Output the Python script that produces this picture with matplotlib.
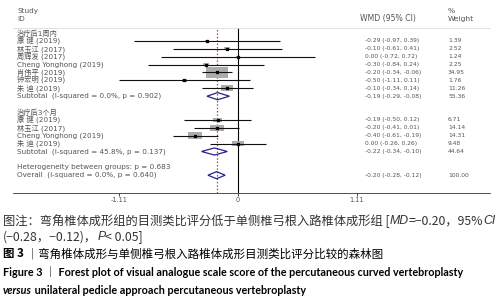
import matplotlib
matplotlib.use('Agg')
import numpy as np
import matplotlib.pyplot as plt
from matplotlib.patches import Rectangle, Polygon
from matplotlib.transforms import blended_transform_factory

plt.rcParams['font.family'] = ['DejaVu Sans', 'Noto Sans CJK SC']

# study data
studies_1w = ['康 健 (2019)', '林玉江 (2017)', '周辉发 (2017)', 'Cheng Yonghong (2019)',
              '肖伟平 (2019)', '钟宏明 (2019)', '朱 迪 (2019)']
wmd_1w = [-0.29, -0.10, 0.00, -0.30, -0.20, -0.50, -0.10]
lo_1w = [-0.97, -0.61, -0.72, -0.84, -0.34, -1.11, -0.34]
hi_1w = [0.39, 0.41, 0.72, 0.24, -0.06, 0.11, 0.14]
wt_1w = [1.39, 2.52, 1.24, 2.25, 34.95, 1.76, 11.26]

studies_3m = ['康 健 (2019)', '林玉江 (2017)', 'Cheng Yonghong (2019)', '朱 迪 (2019)']
wmd_3m = [-0.19, -0.20, -0.40, 0.00]
lo_3m = [-0.50, -0.41, -0.61, -0.26]
hi_3m = [0.12, 0.01, -0.19, 0.26]
wt_3m = [6.71, 14.14, 14.31, 9.48]

groups = ['治疗后1周内', '治疗后3个月']
sub_est = [-0.19, -0.22]
sub_lo = [-0.29, -0.34]
sub_hi = [-0.08, -0.10]
sub_wt = [55.36, 44.64]
sub_i2 = ['0.0%', '45.8%']
sub_p = ['0.902', '0.137']
het_between_p = '0.683'
overall = (-0.20, -0.28, -0.12)
overall_i2, overall_p = '0.0%', '0.640'

xticks = [-1.11, 0, 1.11]

txt_col = '#555555'
navy = '#23238f'
lab_fs = 5.2
num_fs = 4.3

fig = plt.figure(figsize=(5, 3), dpi=100)
ax = fig.add_axes([13 / 500, 1 - 192.5 / 300, 477 / 500, (192.5 - 28) / 300])
ax.set_xlim(-2.099, 2.351)
ax.set_ylim(20.19, -0.63)
tr = blended_transform_factory(ax.transAxes, ax.transData)
x_lab, x_wmd, x_wt = 0.0084, 0.738, 0.912


def fmt(e, l, h):
    return f'{e:.2f} ({l:.2f}, {h:.2f})'


def study_row(r, name, e, l, h, w):
    s = np.sqrt(w)
    ax.add_patch(Rectangle((e - 0.0173 * s, r - 0.107 * s), 0.0346 * s, 0.215 * s,
                           color='#ababab', lw=0, zorder=2))
    ax.hlines(r, l, h, colors='#111111', lw=0.8, zorder=3)
    ax.plot(e, r, marker='s', ms=1.4, color='k', zorder=4)
    ax.text(x_lab, r, name, transform=tr, fontsize=lab_fs, color=txt_col, va='center')
    ax.text(x_wmd, r, fmt(e, l, h), transform=tr, fontsize=num_fs, color=txt_col, va='center')
    ax.text(x_wt, r, f'{w:.2f}', transform=tr, fontsize=num_fs, color=txt_col, va='center')


def diamond(r, e, l, h):
    ax.add_patch(Polygon([(l, r), (e, r - 0.45), (h, r), (e, r + 0.45)], closed=True,
                         fill=False, edgecolor=navy, lw=0.9, zorder=4))


blocks = [(studies_1w, wmd_1w, lo_1w, hi_1w, wt_1w), (studies_3m, wmd_3m, lo_3m, hi_3m, wt_3m)]
row = 0
for g, (names, est, lo, hi, wt) in enumerate(blocks):
    ax.text(x_lab, row, groups[g], transform=tr, fontsize=lab_fs, color=txt_col, va='center')
    row += 1
    for i in range(len(names)):
        study_row(row, names[i], est[i], lo[i], hi[i], wt[i])
        row += 1
    diamond(row, sub_est[g], sub_lo[g], sub_hi[g])
    ax.text(x_lab, row, f'Subtotal  (I-squared = {sub_i2[g]}, p = {sub_p[g]})', transform=tr,
            fontsize=lab_fs, color=txt_col, va='center')
    ax.text(x_wmd, row, fmt(sub_est[g], sub_lo[g], sub_hi[g]), transform=tr, fontsize=num_fs,
            color=txt_col, va='center')
    ax.text(x_wt, row, f'{sub_wt[g]:.2f}', transform=tr, fontsize=num_fs, color=txt_col,
            va='center')
    row += 2

ax.text(x_lab, row, f'Heterogeneity between groups: p = {het_between_p}', transform=tr,
        fontsize=lab_fs, color=txt_col, va='center')
row += 1
diamond(row, *overall)
ax.text(x_lab, row, f'Overall  (I-squared = {overall_i2}, p = {overall_p})', transform=tr,
        fontsize=lab_fs, color=txt_col, va='center')
ax.text(x_wmd, row, fmt(*overall), transform=tr, fontsize=num_fs, color=txt_col, va='center')
ax.text(x_wt, row, '100.00', transform=tr, fontsize=num_fs, color=txt_col, va='center')

# headers
ax.text(x_lab, -2.79, 'Study', transform=tr, fontsize=lab_fs, color=txt_col, va='center')
ax.text(x_lab, -1.77, 'ID', transform=tr, fontsize=lab_fs, color=txt_col, va='center')
ax.text(0.7275, -1.77, 'WMD (95% CI)', transform=tr, fontsize=5.6, color=txt_col, va='center')
ax.text(x_wt, -2.79, '%', transform=tr, fontsize=5.4, color=txt_col, va='center')
ax.text(x_wt, -1.77, 'Weight', transform=tr, fontsize=5.4, color=txt_col, va='center')

ax.axvline(0, color='k', lw=0.8, zorder=1)
ax.axvline(overall[0], color='#dd3333', ls=(0, (1.2, 1.5)), lw=0.9, zorder=1)

for s in ['left', 'right']:
    ax.spines[s].set_visible(False)
ax.spines['top'].set_color('#dddddd')
ax.spines['top'].set_linewidth(0.6)
ax.spines['bottom'].set_color('#333333')
ax.spines['bottom'].set_linewidth(0.6)
ax.set_yticks([])
ax.set_xticks(xticks)
ax.set_xticklabels(['-1.11', '0', '1.11'])
ax.tick_params(axis='x', length=2, width=0.5, labelsize=4.8, pad=1.5, labelcolor=txt_col)

# caption below the plot
renderer = fig.canvas.get_renderer()


def put_line(pieces, x, y, size, target=None):
    texts = []
    x0 = x
    for s, kw in pieces:
        t = fig.text(x / 500, 1 - y / 300, s, fontsize=size, va='center', ha='left', **kw)
        texts.append(t)
        x += t.get_window_extent(renderer).width
    if target is not None:
        for t in texts:
            t.remove()
        return put_line(pieces, x0, y, size * (target - x0) / (x - x0))
    return size


cn = dict(family=['Noto Sans CJK SC'], color='#333333')
it = dict(family=['Liberation Sans'], style='italic', color='#333333')
sz1 = put_line([('图注：弯角椎体成形组的目测类比评分低于单侧椎弓根入路椎体成形组 [', cn),
                ('MD', it), ('=−0.20，95%', cn), ('CI', it)], 3, 221, 8, target=497)
put_line([('(−0.28，−0.12)，', cn), ('P', it), ('< 0.05]', cn)], 3, 237, sz1)

bk = dict(family=['Noto Sans CJK SC'], weight='bold', color='black')
put_line([('图 3', bk), (' ｜弯角椎体成形与单侧椎弓根入路椎体成形目测类比评分比较的森林图',
                         dict(family=['Noto Sans CJK SC'], color='black'))], 3, 254, 8, target=384)

en = dict(family=['Lato'], weight='bold', color='black')
sz4 = put_line([('Figure 3 ｜ Forest plot of visual analogue scale score of the percutaneous '
                 'curved vertebroplasty', dict(family=['Lato', 'Noto Sans CJK SC'],
                                               weight='bold', color='black'))],
               3, 272, 7, target=465)
put_line([('versus', dict(family=['Lato'], weight='bold', style='italic', color='black')),
          (' unilateral pedicle approach percutaneous vertebroplasty', en)], 3, 290, sz4)

fig.savefig('out.png', dpi=100)
